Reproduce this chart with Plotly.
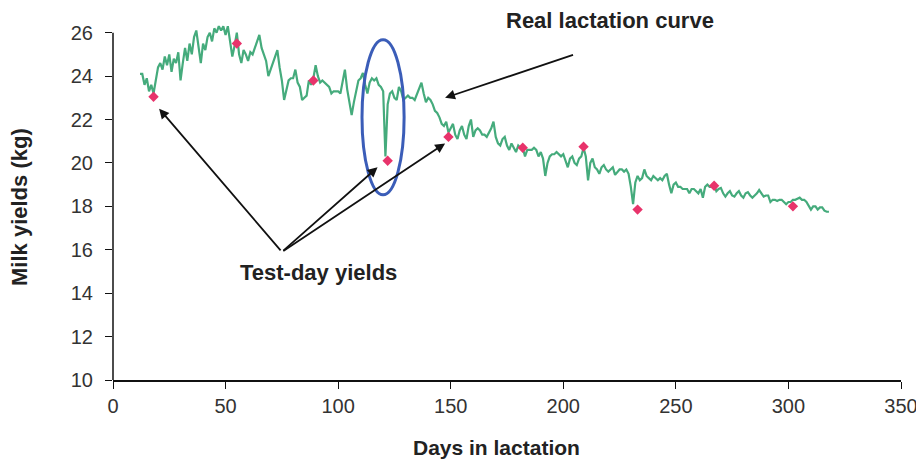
import plotly.graph_objects as go

# Daily milk yield (kg), days 12..318
days = list(range(12, 319))
daily_yield = [
    24.1, 24.1, 23.6, 23.9, 23.3, 23.6, 23.2, 23.8, 24.4, 24.6,   # 12-21
    24.3, 24.9, 24.5, 25.0, 24.2, 24.8, 24.6, 25.1, 23.8, 24.6,   # 22-31
    25.3, 24.7, 25.5, 25.0, 25.8, 26.1, 25.4, 24.6, 25.5, 25.2,   # 32-41
    25.8, 26.0, 25.6, 26.2, 26.0, 26.3, 26.1, 26.3, 25.9, 26.3,   # 42-51
    25.6, 24.9, 25.4, 26.0, 25.0, 24.6, 25.2, 25.0, 24.7, 25.1,   # 52-61
    25.0, 25.3, 25.6, 25.9, 25.3, 25.0, 24.7, 24.0, 24.3, 24.5,   # 62-71
    24.9, 25.2, 24.4, 23.8, 22.9, 23.4, 23.8, 23.9, 23.9, 24.3,   # 72-81
    23.7, 23.5, 22.9, 23.0, 23.1, 23.8, 23.6, 23.9, 24.5, 24.0,   # 82-91
    23.7, 23.8, 23.7, 23.6, 23.5, 23.2, 23.3, 23.3, 23.3, 23.2,   # 92-101
    23.7, 24.3, 23.4, 22.8, 22.2, 22.8, 23.3, 23.8, 23.9, 24.15,  # 102-111
    23.6, 23.2, 23.7, 23.9, 23.8, 23.9, 23.6, 23.5, 23.3, 20.3,   # 112-121
    22.7, 23.2, 23.3, 23.0, 22.9, 23.5, 23.3, 22.9, 23.0, 23.1,   # 122-131
    23.0, 23.0, 22.9, 23.2, 23.5, 23.7, 23.2, 22.8, 23.0, 22.9,   # 132-141
    22.7, 22.4, 22.3, 22.1, 21.8, 21.7, 21.9, 21.4, 21.6, 21.8,   # 142-151
    21.3, 21.1, 21.5, 21.7, 21.3, 21.1, 21.7, 22.0, 21.2, 21.5,   # 152-161
    21.6, 21.5, 21.3, 21.3, 21.2, 21.4, 21.6, 21.9, 21.2, 20.9,   # 162-171
    20.8, 21.1, 21.2, 20.8, 20.6, 20.9, 20.7, 20.5, 20.8, 20.7,   # 172-181
    20.7, 20.3, 20.6, 20.6, 20.6, 20.7, 20.6, 20.3, 20.5, 20.2,   # 182-191
    19.4, 20.0, 20.3, 20.4, 20.4, 20.5, 20.4, 20.3, 20.4, 20.1,   # 192-201
    19.8, 20.2, 20.3, 20.0, 19.9, 20.2, 20.3, 20.7, 20.3, 19.2,   # 202-211
    20.0, 20.2, 19.8, 19.7, 19.5, 19.8, 19.9, 19.7, 19.6, 19.7,   # 212-221
    19.8, 19.45, 19.6, 19.7, 19.7, 19.6, 19.7, 19.5, 18.9, 18.1,  # 222-231
    19.1, 19.4, 19.2, 19.3, 19.7, 19.4, 19.3, 19.2, 19.4, 19.3,   # 232-241
    19.2, 19.3, 19.2, 19.4, 19.5, 19.0, 18.6, 19.0, 19.1, 18.9,   # 242-251
    18.9, 18.8, 18.8, 18.8, 18.6, 18.8, 18.8, 18.7, 18.6, 18.8,   # 252-261
    18.4, 18.9, 19.0, 18.9, 18.9, 19.0, 18.7, 18.8, 18.85, 18.6,  # 262-271
    18.45, 18.6, 18.7, 18.5, 18.45, 18.6, 18.7, 18.5, 18.4, 18.6, # 272-281
    18.65, 18.5, 18.4, 18.5, 18.6, 18.75, 18.6, 18.45, 18.5, 18.5,# 282-291
    18.2, 18.3, 18.3, 18.25, 18.3, 18.3, 18.2, 18.1, 18.2, 18.2,  # 292-301
    18.3, 18.3, 18.35, 18.4, 18.3, 18.3, 18.2, 18.0, 17.85, 18.0, # 302-311
    18.0, 17.85, 17.95, 17.95, 17.8, 17.75, 17.75,                # 312-318
]

# Test-day records
test_days = [18, 55, 89, 122, 149, 182, 209, 233, 267, 302]
test_yield = [23.05, 25.5, 23.8, 20.1, 21.2, 20.7, 20.75, 17.85, 18.95, 18.0]

x_ticks = [0, 50, 100, 150, 200, 250, 300, 350]
y_ticks = [10, 12, 14, 16, 18, 20, 22, 24, 26]

FONT = "Liberation Sans, Arial, sans-serif"
TXT = dict(family=FONT, size=22, color="#222222")

fig = go.Figure()
fig.add_trace(go.Scatter(
    x=days, y=daily_yield, mode="lines",
    line=dict(color="#45ab7c", width=2.2), name="Real lactation curve",
    showlegend=False,
))
fig.add_trace(go.Scatter(
    x=test_days, y=test_yield, mode="markers",
    marker=dict(symbol="diamond", size=8, color="#e8336b"),
    name="Test-day yields", showlegend=False, cliponaxis=False,
))

arrow = dict(showarrow=True, arrowhead=2, arrowsize=1.1, arrowwidth=1.8,
             arrowcolor="#111111", text="", xref="x", yref="y",
             axref="x", ayref="y")
annotations = [
    dict(arrow, x=147.5, y=23.0, ax=205, ay=25.0),
    dict(arrow, x=20.5, y=22.5, ax=75, ay=15.9),
    dict(arrow, x=117.5, y=19.8, ax=75, ay=15.9),
    dict(arrow, x=147.5, y=20.9, ax=75, ay=15.9),
    dict(text="<b>Real lactation curve</b>", x=0.631, y=1.011, xref="paper", yref="paper",
         xanchor="center", yanchor="middle", showarrow=False, font=TXT),
    dict(text="<b>Test-day yields</b>", x=(318 - 113) / 2.2514, y=26 - (273 - 33) / 21.69,
         xref="x", yref="y", xanchor="center", yanchor="middle",
         showarrow=False, font=TXT),
    # axis titles
    dict(text="<b>Days in lactation</b>", x=0.487, y=-0.19, xref="paper", yref="paper",
         xanchor="center", yanchor="middle", showarrow=False,
         font=dict(family=FONT, size=21, color="#222222")),
    dict(text="<b>Milk yields (kg)</b>", x=-0.118, y=0.486, xref="paper", yref="paper",
         xanchor="center", yanchor="middle", textangle=-90, showarrow=False, font=TXT),
]

# page has an 8px body margin, so the figure is drawn 8px smaller and offset
fig.update_layout(
    width=916, height=454,
    margin=dict(l=105, r=23, t=16, b=82),
    paper_bgcolor="white", plot_bgcolor="white",
    font=dict(family=FONT, size=14, color="#333333"),
    annotations=annotations,
    shapes=[
        dict(type="circle", xref="x", yref="y", x0=110.6, x1=129.3, y0=18.53, y1=25.68,
             line=dict(color="#3b5db8", width=3)),
        dict(type="line", xref="paper", yref="y", x0=0, x1=0, y0=10, y1=26,
             line=dict(color="#111111", width=1.5)),
    ],
    xaxis=dict(range=[0, 350], tickvals=x_ticks, ticks="outside", ticklen=7,
               tickcolor="#111111", showline=True, linecolor="#111111", linewidth=1.5,
               showgrid=False, zeroline=False, automargin=False,
               tickfont=dict(size=20, color="#333333")),
    yaxis=dict(range=[10, 26.4], tickvals=y_ticks, ticks="outside", ticklen=7,
               tickcolor="#111111", showline=False,
               showgrid=False, zeroline=False, automargin=False,
               ticklabelstandoff=8,
               tickfont=dict(size=20, color="#333333")),
)

fig.write_html("out.html")
